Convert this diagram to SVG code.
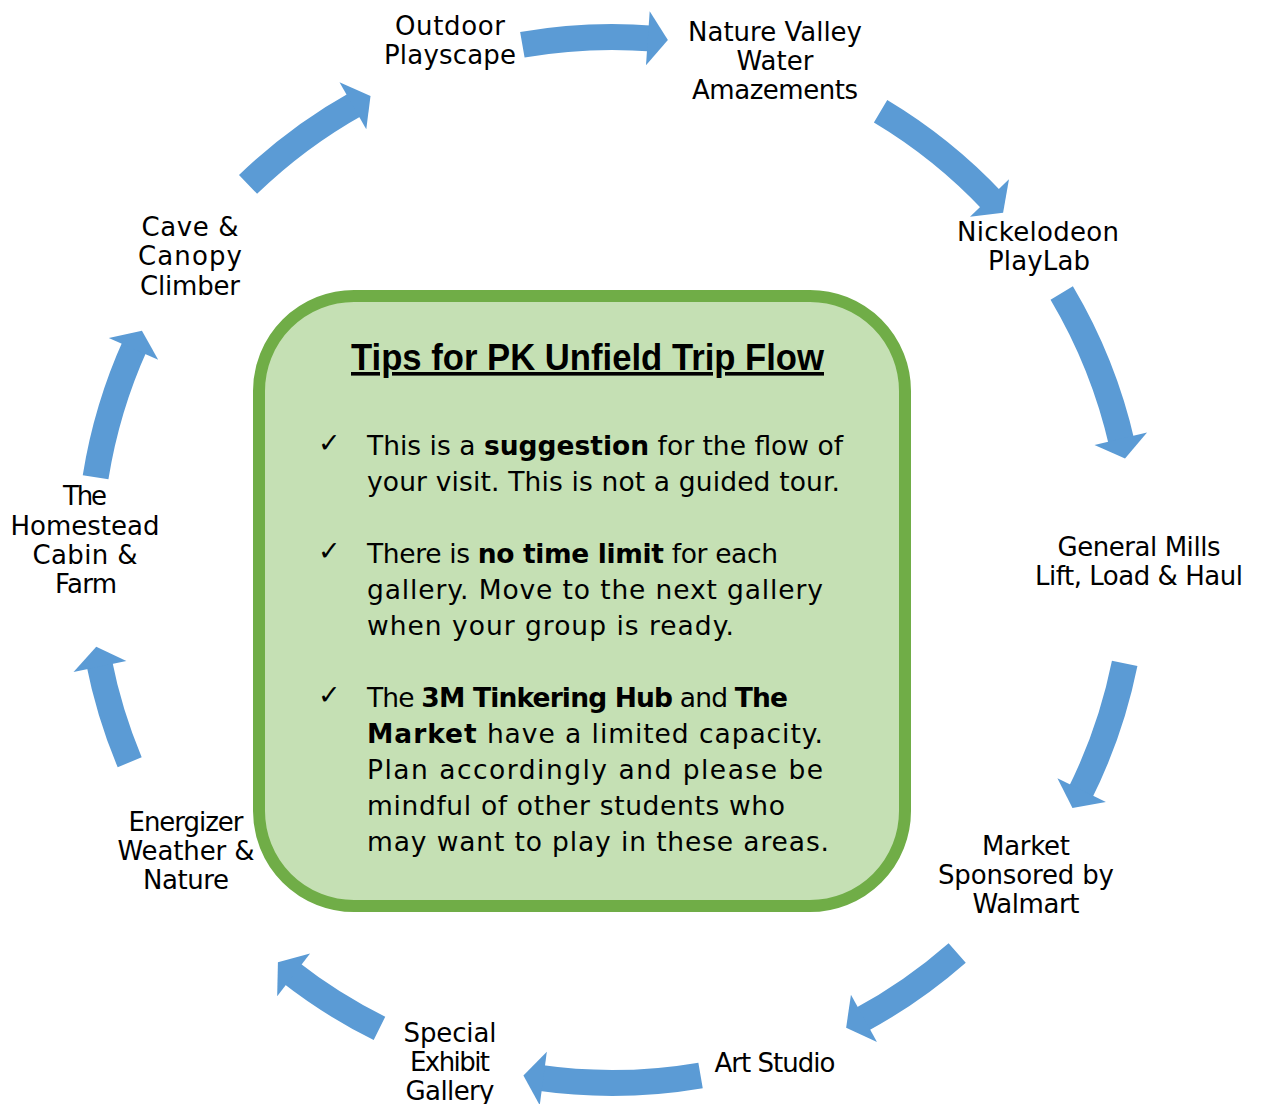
<svg xmlns="http://www.w3.org/2000/svg" width="1261" height="1104" viewBox="0 0 1261 1104">
<style>
.body{fill:none;stroke:#5B9BD5;stroke-width:26;stroke-linecap:butt}
.head{fill:#5B9BD5}
.lbl{font-family:"DejaVu Sans","Liberation Sans",sans-serif;font-size:26px;fill:#000;text-anchor:middle}
.par{font-family:"DejaVu Sans","Liberation Sans",sans-serif;font-size:26.5px;fill:#000}
.chk{font-family:"DejaVu Sans",sans-serif;font-size:27px;fill:#000}
.b{font-weight:bold}
.title{font-family:"Liberation Sans","DejaVu Sans",sans-serif;font-size:36px;font-weight:bold;fill:#000;text-anchor:middle;text-decoration:underline}
</style>
<rect width="1261" height="1104" fill="#FFFFFF"/>
<g id="connectors">
  <g transform="rotate(-86.07 612 560)"><path class="body" d="M1119.9 435.25 A523 523 0 0 1 1134.97 565.48"/><polygon class="head" points="1108,560 1162,560 1134.6,580.1"/></g>
  <g transform="rotate(-43.8 612 560)"><path class="body" d="M1116.46 422 A523 523 0 0 1 1134.97 565.48"/><polygon class="head" points="1108,560 1162,560 1134.6,580.1"/></g>
  <g transform="rotate(-13.4 612 560)"><path class="body" d="M1111.34 404.48 A523 523 0 0 1 1134.97 565.48"/><polygon class="head" points="1108,560 1162,560 1134.6,580.1"/></g>
  <g transform="rotate(26.1 612 560)"><path class="body" d="M1117.88 427.28 A523 523 0 0 1 1134.97 565.48"/><polygon class="head" points="1108,560 1162,560 1134.6,580.1"/></g>
  <g transform="rotate(61.2 612 560)"><path class="body" d="M1122.6 446.8 A523 523 0 0 1 1134.97 565.48"/><polygon class="head" points="1108,560 1162,560 1134.6,580.1"/></g>
  <g transform="rotate(97.55 612 560)"><path class="body" d="M1111.34 404.48 A523 523 0 0 1 1134.97 565.48"/><polygon class="head" points="1108,560 1162,560 1134.6,580.1"/></g>
  <g transform="rotate(127.5 612 560)"><path class="body" d="M1125.21 459.31 A523 523 0 0 1 1134.97 565.48"/><polygon class="head" points="1108,560 1162,560 1134.6,580.1"/></g>
  <g transform="rotate(168.25 612 560)"><path class="body" d="M1125.39 460.21 A523 523 0 0 1 1134.97 565.48"/><polygon class="head" points="1108,560 1162,560 1134.6,580.1"/></g>
  <g transform="rotate(203.8 612 560)"><path class="body" d="M1117.88 427.28 A523 523 0 0 1 1134.97 565.48"/><polygon class="head" points="1108,560 1162,560 1134.6,580.1"/></g>
  <g transform="rotate(240.3 612 560)"><path class="body" d="M1118.57 429.94 A523 523 0 0 1 1134.97 565.48"/><polygon class="head" points="1108,560 1162,560 1134.6,580.1"/></g>
</g>
<g id="node-outdoor">
  <text class="lbl" x="450" y="35" textLength="110">Outdoor</text>
  <text class="lbl" x="450" y="64" textLength="132">Playscape</text>
</g>
<g id="node-nature-valley">
  <text class="lbl" x="775" y="41" textLength="174">Nature Valley</text>
  <text class="lbl" x="775" y="70" textLength="77">Water</text>
  <text class="lbl" x="775" y="99" textLength="166">Amazements</text>
</g>
<g id="node-nickelodeon">
  <text class="lbl" x="1038" y="241" textLength="162">Nickelodeon</text>
  <text class="lbl" x="1039" y="270" textLength="102">PlayLab</text>
</g>
<g id="node-general-mills">
  <text class="lbl" x="1139" y="556" textLength="163">General Mills</text>
  <text class="lbl" x="1139" y="585" textLength="208">Lift, Load &amp; Haul</text>
</g>
<g id="node-market">
  <text class="lbl" x="1026" y="855" textLength="88">Market</text>
  <text class="lbl" x="1026" y="884" textLength="176">Sponsored by</text>
  <text class="lbl" x="1026" y="913" textLength="107">Walmart</text>
</g>
<g id="node-art-studio">
  <text class="lbl" x="775" y="1072" textLength="121">Art Studio</text>
</g>
<g id="node-special-exhibit">
  <text class="lbl" x="450" y="1042" textLength="93">Special</text>
  <text class="lbl" x="450" y="1071" textLength="80">Exhibit</text>
  <text class="lbl" x="450" y="1100" textLength="89">Gallery</text>
</g>
<g id="node-energizer">
  <text class="lbl" x="186" y="831" textLength="115">Energizer</text>
  <text class="lbl" x="186" y="860" textLength="137">Weather &amp;</text>
  <text class="lbl" x="186" y="889" textLength="86">Nature</text>
</g>
<g id="node-homestead">
  <text class="lbl" x="85" y="505" textLength="44">The</text>
  <text class="lbl" x="85" y="535" textLength="149">Homestead</text>
  <text class="lbl" x="85" y="564" textLength="105">Cabin &amp;</text>
  <text class="lbl" x="86" y="593" textLength="62">Farm</text>
</g>
<g id="node-cave">
  <text class="lbl" x="190" y="236" textLength="97">Cave &amp;</text>
  <text class="lbl" x="190" y="265" textLength="104">Canopy</text>
  <text class="lbl" x="190" y="295" textLength="100">Climber</text>
</g>
<g id="node-tips">
  <rect x="259" y="296" width="646" height="610" rx="95" ry="95" fill="#C5E0B4" stroke="#70AD47" stroke-width="12"/>
  <text class="title" x="587.5" y="370" textLength="473" lengthAdjust="spacingAndGlyphs">Tips for PK Unfield Trip Flow</text>
  <text class="chk" x="318" y="452">✓</text>
  <text class="par" x="367" y="455" textLength="476">This is a <tspan class="b">suggestion</tspan> for the flow of</text>
  <text class="par" x="367" y="491" textLength="473">your visit. This is not a guided tour.</text>
  <text class="chk" x="318" y="560">✓</text>
  <text class="par" x="367" y="563" textLength="411">There is <tspan class="b">no time limit</tspan> for each</text>
  <text class="par" x="367" y="599" textLength="456">gallery. Move to the next gallery</text>
  <text class="par" x="367" y="635" textLength="367">when your group is ready.</text>
  <text class="chk" x="318" y="704">✓</text>
  <text class="par" x="367" y="707" textLength="421">The <tspan class="b">3M Tinkering Hub</tspan> and <tspan class="b">The</tspan></text>
  <text class="par" x="367" y="743" textLength="456"><tspan class="b">Market</tspan> have a limited capacity.</text>
  <text class="par" x="367" y="779" textLength="456">Plan accordingly and please be</text>
  <text class="par" x="367" y="815" textLength="418">mindful of other students who</text>
  <text class="par" x="367" y="851" textLength="462">may want to play in these areas.</text>
</g>
</svg>
